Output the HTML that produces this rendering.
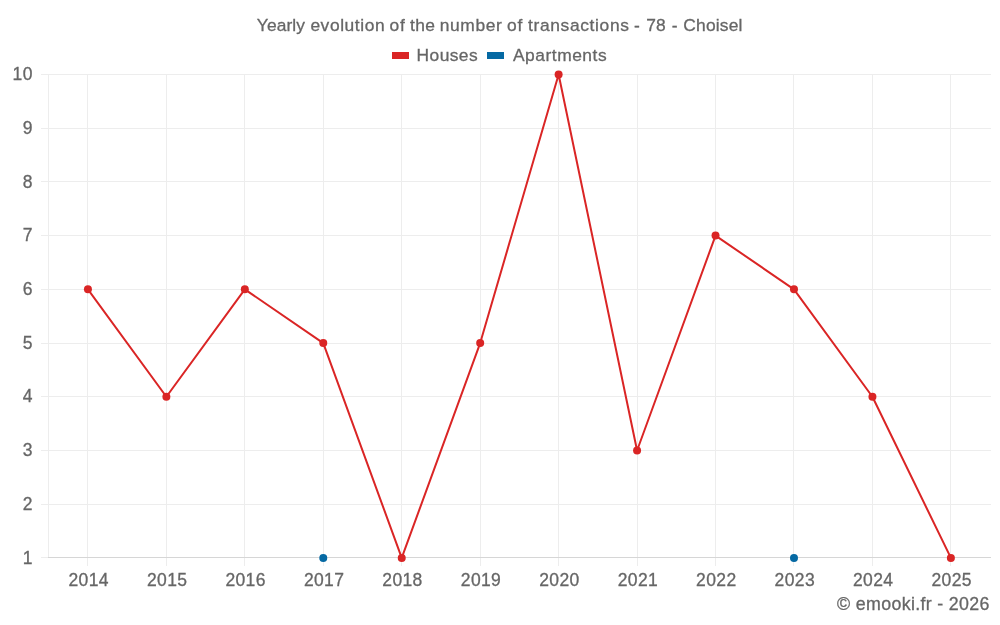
<!DOCTYPE html>
<html lang="en"><head><meta charset="utf-8"><title>Yearly evolution of the number of transactions - 78 - Choisel</title>
<style>html,body{margin:0;padding:0;background:#fff;}body{width:1000px;height:625px;overflow:hidden;}svg{display:block;will-change:transform;opacity:0.999;}text{font-family:"Liberation Sans",Arial,sans-serif;fill:#666666;stroke:#666666;stroke-width:0.3px;}</style></head><body>
<svg width="1000" height="625" viewBox="0 0 1000 625">
<rect width="1000" height="625" fill="#fff"/>
<g stroke="#ededed" stroke-width="1" shape-rendering="crispEdges">
<line x1="41" x2="991" y1="504.5" y2="504.5"/>
<line x1="41" x2="991" y1="450.5" y2="450.5"/>
<line x1="41" x2="991" y1="396.5" y2="396.5"/>
<line x1="41" x2="991" y1="343.5" y2="343.5"/>
<line x1="41" x2="991" y1="289.5" y2="289.5"/>
<line x1="41" x2="991" y1="235.5" y2="235.5"/>
<line x1="41" x2="991" y1="181.5" y2="181.5"/>
<line x1="41" x2="991" y1="128.5" y2="128.5"/>
<line x1="41" x2="991" y1="74.5" y2="74.5"/>
<line x1="41" x2="48" y1="557.5" y2="557.5"/>
<line x1="48.5" x2="48.5" y1="74" y2="557.5"/>
<line x1="87.5" x2="87.5" y1="74" y2="566"/>
<line x1="166.5" x2="166.5" y1="74" y2="566"/>
<line x1="244.5" x2="244.5" y1="74" y2="566"/>
<line x1="323.5" x2="323.5" y1="74" y2="566"/>
<line x1="401.5" x2="401.5" y1="74" y2="566"/>
<line x1="480.5" x2="480.5" y1="74" y2="566"/>
<line x1="558.5" x2="558.5" y1="74" y2="566"/>
<line x1="637.5" x2="637.5" y1="74" y2="566"/>
<line x1="715.5" x2="715.5" y1="74" y2="566"/>
<line x1="793.5" x2="793.5" y1="74" y2="566"/>
<line x1="872.5" x2="872.5" y1="74" y2="566"/>
<line x1="950.5" x2="950.5" y1="74" y2="566"/>
</g>
<line x1="48" x2="991" y1="557.5" y2="557.5" stroke="#d6d6d6" stroke-width="1" shape-rendering="crispEdges"/>
<g font-size="17.5" text-anchor="end">
<text x="32.5" y="564">1</text>
<text x="32.5" y="510">2</text>
<text x="32.5" y="456">3</text>
<text x="32.5" y="402">4</text>
<text x="32.5" y="349">5</text>
<text x="32.5" y="295">6</text>
<text x="32.5" y="241">7</text>
<text x="32.5" y="188">8</text>
<text x="32.5" y="134">9</text>
<text x="32.5" y="80" letter-spacing="0.5" dx="0.5">10</text>
</g>
<g font-size="17.5" text-anchor="middle" letter-spacing="0.37">
<text x="88.7" y="586">2014</text>
<text x="167.2" y="586">2015</text>
<text x="245.6" y="586">2016</text>
<text x="324.1" y="586">2017</text>
<text x="402.5" y="586">2018</text>
<text x="481.0" y="586">2019</text>
<text x="559.4" y="586">2020</text>
<text x="637.9" y="586">2021</text>
<text x="716.3" y="586">2022</text>
<text x="794.8" y="586">2023</text>
<text x="873.2" y="586">2024</text>
<text x="951.7" y="586">2025</text>
</g>
<text y="31" font-size="17.4"><tspan x="256.80" letter-spacing="0.080">Yearly</tspan> <tspan x="310.38" letter-spacing="0.577">evolution</tspan> <tspan x="389.48" letter-spacing="0.916">of</tspan> <tspan x="410.00" letter-spacing="0.400">the</tspan> <tspan x="439.80" letter-spacing="0.600">number</tspan> <tspan x="506.88" letter-spacing="0.916">of</tspan> <tspan x="528.00" letter-spacing="0.654">transactions</tspan> <tspan x="634.08" letter-spacing="0.000">-</tspan> <tspan x="646.36" letter-spacing="0.041">78</tspan> <tspan x="671.68" letter-spacing="0.000">-</tspan> <tspan x="683.27" letter-spacing="0.202">Choisel</tspan></text>
<rect x="392" y="52" width="17" height="7" fill="#da2525"/>
<text x="416.6" y="61" font-size="17.4" textLength="61" lengthAdjust="spacing">Houses</text>
<rect x="487" y="52" width="17" height="7" fill="#0569a3"/>
<text x="513" y="61" font-size="17.4" textLength="93.6" lengthAdjust="spacing">Apartments</text>
<text x="837.1" y="610" font-size="17.8" textLength="152.3" lengthAdjust="spacing">© emooki.fr - 2026</text>
<polyline points="87.93,289.33 166.38,396.77 244.82,289.33 323.27,343.05 401.73,557.93 480.18,343.05 558.62,74.45 637.08,450.49 715.53,235.61 793.98,289.33 872.43,396.77 950.88,557.93" fill="none" stroke="#da2525" stroke-width="2" stroke-linejoin="round" stroke-linecap="round"/>
<circle cx="323.27" cy="557.93" r="4" fill="#0569a3"/>
<circle cx="793.98" cy="557.93" r="4" fill="#0569a3"/>
<circle cx="87.93" cy="289.33" r="4" fill="#da2525"/>
<circle cx="166.38" cy="396.77" r="4" fill="#da2525"/>
<circle cx="244.82" cy="289.33" r="4" fill="#da2525"/>
<circle cx="323.27" cy="343.05" r="4" fill="#da2525"/>
<circle cx="401.73" cy="557.93" r="4" fill="#da2525"/>
<circle cx="480.18" cy="343.05" r="4" fill="#da2525"/>
<circle cx="558.62" cy="74.45" r="4" fill="#da2525"/>
<circle cx="637.08" cy="450.49" r="4" fill="#da2525"/>
<circle cx="715.53" cy="235.61" r="4" fill="#da2525"/>
<circle cx="793.98" cy="289.33" r="4" fill="#da2525"/>
<circle cx="872.43" cy="396.77" r="4" fill="#da2525"/>
<circle cx="950.88" cy="557.93" r="4" fill="#da2525"/>
</svg></body></html>
